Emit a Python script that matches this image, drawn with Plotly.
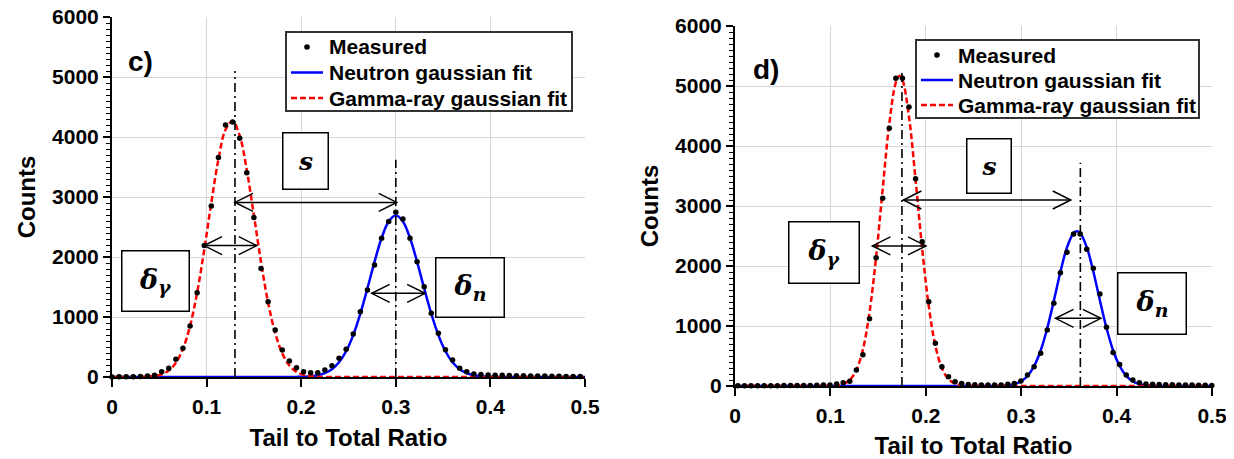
import plotly.graph_objects as go

# ---------------- Panel c) data ----------------
c_x = [0.0, 0.0075, 0.015, 0.0225, 0.03, 0.0375, 0.045, 0.0525, 0.06, 0.0675,
       0.075, 0.0825, 0.09, 0.0975, 0.105, 0.1125, 0.12, 0.1275, 0.135, 0.1425,
       0.15, 0.1575, 0.165, 0.1725, 0.18, 0.1875, 0.195, 0.2025, 0.21, 0.2175,
       0.225, 0.2325, 0.24, 0.2475, 0.255, 0.2625, 0.27, 0.2775, 0.285, 0.2925,
       0.3, 0.3075, 0.315, 0.3225, 0.33, 0.3375, 0.345, 0.3525, 0.36, 0.3675,
       0.375, 0.3825, 0.39, 0.3975, 0.405, 0.4125, 0.42, 0.4275, 0.435, 0.4425,
       0.45, 0.4575, 0.465, 0.4725, 0.48, 0.4875, 0.495]
c_measured = [2, 3, 3, 5, 8, 15, 30, 88, 145, 295,
              478, 850, 1405, 2190, 2850, 3660, 4200, 4250, 3978, 3405,
              2660, 1810, 1255, 783, 450, 267, 155, 88, 72, 72,
              117, 188, 312, 462, 717, 1088, 1450, 1867, 2312, 2590,
              2745, 2633, 2312, 1922, 1505, 1062, 728, 455, 283, 145,
              88, 50, 40, 35, 30, 28, 25, 22, 20, 18,
              16, 15, 13, 12, 10, 10, 8]
c_fit_x = c_x + [0.5]
c_gamma_fit = ([0, 0, 0, 0, 2, 6, 17, 45, 107, 235,
                469, 851, 1407, 2119, 2905, 3627, 4122, 4267, 4021, 3450,
                2696, 1918, 1242, 733, 394, 192, 86, 35, 13, 4, 1]
               + [0] * 37)
c_neutron_fit = ([0] * 26
                 + [2, 5, 12, 29, 64, 129, 245, 429, 698, 1055, 1477, 1920, 2316, 2591,
                    2690,
                    2591, 2316, 1920, 1477, 1055, 698, 429, 245, 129, 64, 29, 12, 5, 2]
                 + [0] * 13)

# ---------------- Panel d) data ----------------
d_x = [0.003, 0.0099, 0.0168, 0.0237, 0.0306, 0.0375, 0.0444, 0.0513, 0.0582, 0.0651,
       0.072, 0.0789, 0.0858, 0.0927, 0.0996, 0.1065, 0.1134, 0.1203, 0.1272, 0.1341,
       0.141, 0.1479, 0.1548, 0.1617, 0.1686, 0.1755, 0.1824, 0.1893, 0.1962, 0.2031,
       0.21, 0.2169, 0.2238, 0.2307, 0.2376, 0.2445, 0.2514, 0.2583, 0.2652, 0.2721,
       0.279, 0.2859, 0.2928, 0.2997, 0.3066, 0.3135, 0.3204, 0.3273, 0.3342, 0.3411,
       0.348, 0.3549, 0.3618, 0.3687, 0.3756, 0.3825, 0.3894, 0.3963, 0.4032, 0.4101,
       0.417, 0.4239, 0.4308, 0.4377, 0.4446, 0.4515, 0.4584, 0.4653, 0.4722, 0.4791,
       0.486, 0.4929, 0.4998]
d_measured = [5, 5, 5, 5, 5, 6, 6, 7, 8, 8,
              10, 10, 12, 15, 17, 33, 55, 80, 267, 522,
              1122, 2138, 3128, 4295, 5128, 5128, 4650, 3455, 2405, 1405,
              712, 322, 155, 72, 40, 25, 20, 18, 17, 17,
              17, 28, 40, 83, 183, 322, 545, 933, 1378, 1888,
              2228, 2533, 2533, 2278, 1962, 1533, 980, 560, 360, 183,
              100, 55, 35, 28, 25, 22, 20, 18, 17, 15,
              14, 12, 10]
d_fit_x = [0.0] + d_x[:25] + [0.1725] + d_x[25:52] + [0.3584] + d_x[52:]
d_gamma_fit = ([0] * 15
               + [2, 9, 33, 100, 264, 610, 1227, 2151, 3283, 4366, 5057,
                  5170,
                  5103, 4486, 3433, 2291, 1331, 674, 297, 114, 38, 11, 3]
               + [0] * 38)
d_neutron_fit = ([0] * 41
                 + [1, 4, 12, 32, 77, 167, 330, 591, 962, 1419, 1901, 2311, 2548,
                    2580,
                    2550, 2315, 1908, 1426, 967, 596, 333, 169, 78, 32, 12, 4]
                 + [0] * 9)

assert len(c_fit_x) == len(c_gamma_fit) == len(c_neutron_fit)
assert len(d_fit_x) == len(d_gamma_fit) == len(d_neutron_fit)
assert len(c_x) == len(c_measured) and len(d_x) == len(d_measured)

legend_labels = ["Measured", "Neutron gaussian fit", "Gamma-ray gaussian fit"]

# ---------------- Annotation guides (peak positions, widths) ----------------
c_guides = dict(g_peak=0.13, g_top=5100, n_peak=0.30, n_top=3620,
                s_y=2910, s_x=(0.13, 0.301),
                dg_y=2190, dg_x=(0.0973, 0.153),
                dn_y=1395, dn_x=(0.2745, 0.331))
d_guides = dict(g_peak=0.175, g_top=5220, n_peak=0.362, n_top=3720,
                s_y=3100, s_x=(0.1765, 0.352),
                dg_y=2335, dg_x=(0.144, 0.2002),
                dn_y=1128, dn_x=(0.336, 0.3835))

FONT = "Liberation Sans, Arial, sans-serif"
MATH = "DejaVu Serif, Liberation Serif, serif"
BLUE = "#0000ff"
RED = "#ff0000"

# page is drawn with an 8px body margin: work in page pixels, convert to figure
OFF = 8
W, H = 1234 - OFF, 459 - OFF


def px(xp):
    return (xp - OFF) / W


def py(yp):
    return 1 - (yp - OFF) / H


fig = go.Figure()


def add_panel(xm, ym, xf, gf, nf, xa, ya):
    fig.add_trace(go.Scatter(x=xf, y=nf, mode="lines", name=legend_labels[1],
                             line=dict(color=BLUE, width=2.5, shape="spline"),
                             xaxis=xa, yaxis=ya, showlegend=False))
    fig.add_trace(go.Scatter(x=xf, y=gf, mode="lines", name=legend_labels[2],
                             line=dict(color=RED, width=2.5, dash="6px,3px",
                                       shape="spline"),
                             xaxis=xa, yaxis=ya, showlegend=False))
    fig.add_trace(go.Scatter(x=xm, y=ym, mode="markers", name=legend_labels[0],
                             marker=dict(color="black", size=5.5),
                             cliponaxis=False,
                             xaxis=xa, yaxis=ya, showlegend=False))


add_panel(c_x, c_measured, c_fit_x, c_gamma_fit, c_neutron_fit, "x", "y")
add_panel(d_x, d_measured, d_fit_x, d_gamma_fit, d_neutron_fit, "x2", "y2")

shapes = []
annots = []


def guides(g, xr, yr):
    for xv, top in ((g["g_peak"], g["g_top"]), (g["n_peak"], g["n_top"])):
        shapes.append(dict(type="line", xref=xr, yref=yr, x0=xv, x1=xv, y0=0, y1=top,
                           line=dict(color="black", width=1.6, dash="9px,4px,2px,4px")))
    for key in ("s", "dg", "dn"):
        y = g[key + "_y"]
        x0, x1 = g[key + "_x"]
        shapes.append(dict(type="line", xref=xr, yref=yr, x0=x0, x1=x1, y0=y, y1=y,
                           line=dict(color="black", width=1.5)))
        shapes.append(dict(type="path", xref=xr, yref=yr, xsizemode="pixel",
                           ysizemode="pixel", xanchor=x0, yanchor=y,
                           path="M 18,9 L 0,0 L 18,-9",
                           line=dict(color="black", width=1.5)))
        shapes.append(dict(type="path", xref=xr, yref=yr, xsizemode="pixel",
                           ysizemode="pixel", xanchor=x1, yanchor=y,
                           path="M -18,9 L 0,0 L -18,-9",
                           line=dict(color="black", width=1.5)))


guides(c_guides, "x", "y")
guides(d_guides, "x2", "y2")


def box(text, x, y, w, h, xr, yr, size=27):
    annots.append(dict(text=text, x=x, y=y, xref=xr, yref=yr, showarrow=False,
                       width=w, height=h, bordercolor="black", borderwidth=1.5,
                       borderpad=0, bgcolor="white", align="center", valign="middle",
                       font=dict(family=MATH, size=size, color="black")))


S_TXT = "<b><i>s</i></b>"
DG_TXT = "<b><i>δ<sub>γ</sub></i></b>"
DN_TXT = "<b><i>δ<sub>n</sub></i></b>"

box(S_TXT, 0.205, 3600, 44, 55, "x", "y", 25)
box(DG_TXT, 0.0455, 1600, 66, 59, "x", "y")
box(DN_TXT, 0.378, 1500, 67, 58, "x", "y")
box(S_TXT, 0.266, 3670, 43, 53, "x2", "y2", 25)
box(DG_TXT, 0.0933, 2217, 69, 60, "x2", "y2")
box(DN_TXT, 0.437, 1367, 67, 60, "x2", "y2")

annots.append(dict(text="<b>c)</b>", x=0.0305, y=5250, xref="x", yref="y",
                   showarrow=False, font=dict(family=FONT, size=28, color="black")))
annots.append(dict(text="<b>d)</b>", x=0.0325, y=5270, xref="x2", yref="y2",
                   showarrow=False, font=dict(family=FONT, size=28, color="black")))


# ---------------- legends (drawn as a framed key in page pixels) ----------------
def legend(box_l, box_t, box_r, box_b, line_l, line_r, text_l, rows):
    shapes.append(dict(type="rect", xref="paper", yref="paper",
                       x0=px(box_l), x1=px(box_r), y0=py(box_b), y1=py(box_t),
                       line=dict(color="#333333", width=2), fillcolor="white",
                       layer="above"))
    mid = (line_l + line_r) / 2
    shapes.append(dict(type="circle", xref="paper", yref="paper", xsizemode="pixel",
                       ysizemode="pixel", xanchor=px(mid), yanchor=py(rows[0]),
                       x0=-2.8, x1=2.8, y0=-2.8, y1=2.8, fillcolor="black",
                       line=dict(width=0), layer="above"))
    shapes.append(dict(type="line", xref="paper", yref="paper",
                       x0=px(line_l), x1=px(line_r), y0=py(rows[1]), y1=py(rows[1]),
                       line=dict(color=BLUE, width=2.5), layer="above"))
    shapes.append(dict(type="line", xref="paper", yref="paper",
                       x0=px(line_l), x1=px(line_r), y0=py(rows[2]), y1=py(rows[2]),
                       line=dict(color=RED, width=2.5, dash="6px,3px"), layer="above"))
    for lab, r in zip(legend_labels, rows):
        annots.append(dict(text="<b>" + lab + "</b>", xref="paper", yref="paper",
                           x=px(text_l), y=py(r), xanchor="left", yanchor="middle",
                           showarrow=False,
                           font=dict(family=FONT, size=21, color="black")))


legend(286, 32, 572, 111, 291, 323, 327, [47, 72.5, 98])
legend(916, 40, 1199, 118, 921, 953, 956, [55, 80, 105])

axis_common = dict(showline=True, linecolor="black", linewidth=2, ticks="outside",
                   tickcolor="black", tickwidth=2, showgrid=True, gridcolor="#d6d6d6",
                   gridwidth=1, zeroline=False, automargin=False,
                   ticklabeloverflow="allow",
                   tickfont=dict(family=FONT, size=21, color="black", weight="bold"))
xax = dict(axis_common, range=[0, 0.5], dtick=0.1, tick0=0, ticklen=8,
           ticklabelstandoff=2,
           title=dict(text="Tail to Total Ratio", standoff=12,
                      font=dict(family=FONT, size=24, color="black", weight="bold")))
yax = dict(axis_common, range=[0, 6000], dtick=1000, tick0=0, ticklen=7,
           minor=dict(ticks="outside", ticklen=4, tickwidth=1, dtick=100,
                      tickcolor="black", showgrid=False),
           title=dict(text="Counts", standoff=10,
                      font=dict(family=FONT, size=24, color="black", weight="bold")))

fig.update_layout(
    width=W, height=H,
    margin=dict(l=0, r=0, t=0, b=0),
    paper_bgcolor="white", plot_bgcolor="white",
    showlegend=False,
    xaxis=dict(xax, domain=[px(112), px(585)], anchor="y"),
    yaxis=dict(yax, domain=[py(377), py(17)], anchor="x"),
    xaxis2=dict(xax, domain=[px(735), px(1212)], anchor="y2"),
    yaxis2=dict(yax, domain=[py(386), py(26)], anchor="x2"),
    shapes=shapes,
    annotations=annots,
)

fig.write_html("out.html")
